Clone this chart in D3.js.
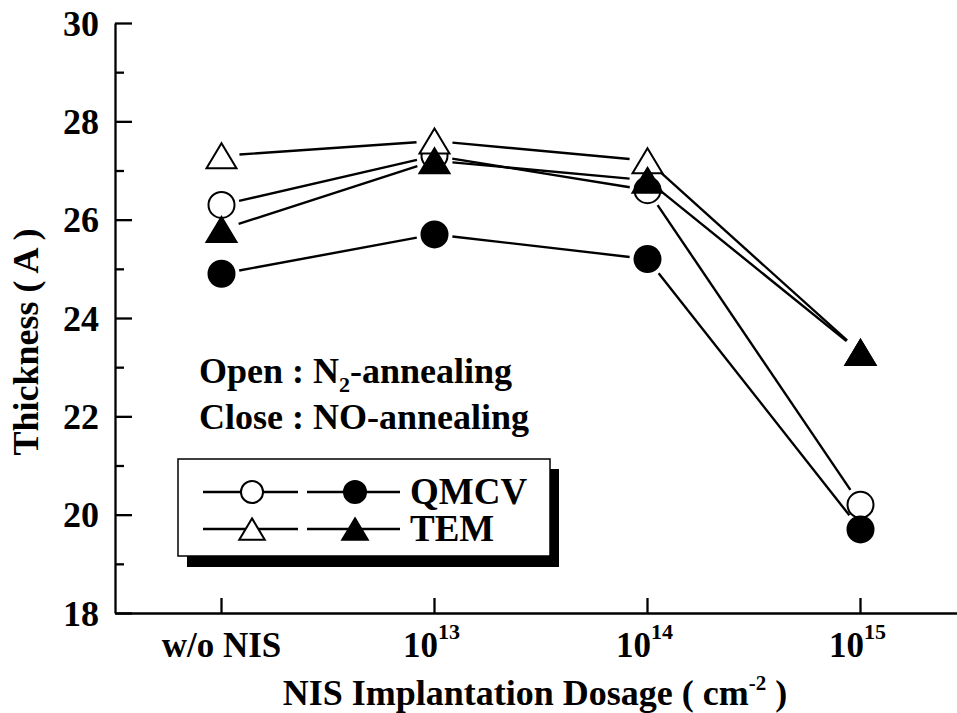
<!DOCTYPE html>
<html><head><meta charset="utf-8">
<script src="https://cdn.jsdelivr.net/npm/d3@7"></script>
<style>
body{margin:0;background:#fff}
svg text{font-family:"Liberation Serif","Times New Roman",serif;font-weight:bold;fill:#000}
</style>
</head><body><svg id="chart" width="957" height="713"></svg>
<script>
// ---- data ----
const categories = ["w/o NIS", "1e13", "1e14", "1e15"];
const xTickBase = ["w/o NIS", "10", "10", "10"];
const xTickSup = ["", "13", "14", "15"];
const qmcvN2 = [26.3, 27.3, 26.6, 20.2];
const qmcvNO = [24.9, 25.7, 25.2, 19.7];
const temN2 = [27.3, 27.6, 27.2, 23.3];
const temNO = [25.8, 27.2, 26.8, 23.3];
const yMajorTicks = [18, 20, 22, 24, 26, 28, 30];
const yMinorTicks = [19, 21, 23, 25, 27, 29];
const legendLabels = ["QMCV", "TEM"];

// ---- setup ----
const svg = d3.select("#chart");
const plotLeft = 115, plotTop = 23, plotBottom = 613, plotRight = 967;
const x = d3.scaleBand().domain(categories).range([plotLeft, plotRight]).paddingInner(0).paddingOuter(0);
const cx = c => x(c) + x.bandwidth() / 2;
const y = d3.scaleLinear().domain([18, 30]).range([plotBottom, plotTop]);

// axes
const yAxisG = svg.append("g").attr("transform", `translate(${plotLeft},0)`)
  .call(d3.axisLeft(y).tickValues(yMajorTicks).tickSize(-17).tickSizeOuter(0).tickPadding(16).tickFormat(d3.format("d")));
svg.append("g").attr("transform", `translate(${plotLeft},0)`)
  .call(d3.axisLeft(y).tickValues(yMinorTicks).tickSize(-9).tickSizeOuter(0).tickFormat(""))
  .call(g => g.select(".domain").remove());
yAxisG.selectAll("text").style("font-size", "36px").attr("dy", "0.34em");

const xAxisG = svg.append("g").attr("transform", `translate(0,${plotBottom})`)
  .call(d3.axisBottom(x).tickSize(-15).tickSizeOuter(0).tickFormat(""));
xAxisG.selectAll(".tick").each(function(d, i) {
  const t = d3.select(this).append("text")
    .attr("y", 44).attr("x", xTickSup[i] ? -3 : 0)
    .attr("text-anchor", "middle").style("font-size", "35px");
  t.append("tspan").text(xTickBase[i]);
  if (xTickSup[i]) t.append("tspan").attr("dy", -18).style("font-size", "22px").text(xTickSup[i]);
});
svg.selectAll(".domain, .tick line").attr("stroke", "#000").attr("stroke-width", 2.3);

// axis titles
svg.append("text").attr("transform", "translate(38,342) rotate(-90)")
  .attr("text-anchor", "middle").style("font-size", "36px").text("Thickness ( A )");
const xt = svg.append("text").attr("x", 535).attr("y", 705).attr("text-anchor", "middle").style("font-size", "36px");
xt.append("tspan").text("NIS Implantation Dosage ( cm");
xt.append("tspan").attr("dy", -15).style("font-size", "21px").text("-2");
xt.append("tspan").attr("dy", 15).text(" )");

// annotation
const a1 = svg.append("text").attr("x", 199).attr("y", 383).style("font-size", "36px");
a1.append("tspan").text("Open : N");
a1.append("tspan").attr("dy", 9).style("font-size", "22px").text("2");
a1.append("tspan").attr("dy", -9).text("-annealing");
svg.append("text").attr("x", 199).attr("y", 429).style("font-size", "36px").text("Close : NO-annealing");

// series
const series = [
  {values: qmcvN2, shape: "circle", fill: "#fff"},
  {values: temN2, shape: "triangle", fill: "#fff"},
  {values: qmcvNO, shape: "circle", fill: "#000"},
  {values: temNO, shape: "triangle", fill: "#000"}
];
const gap = 18;
const lineG = svg.append("g");
series.forEach(s => {
  for (let i = 0; i < categories.length - 1; i++) {
    const x1 = cx(categories[i]), y1 = y(s.values[i]);
    const x2 = cx(categories[i + 1]), y2 = y(s.values[i + 1]);
    const dx = x2 - x1, dy = y2 - y1, L = Math.hypot(dx, dy);
    const ux = dx / L, uy = dy / L;
    lineG.append("line")
      .attr("x1", x1 + ux * gap).attr("y1", y1 + uy * gap)
      .attr("x2", x2 - ux * gap).attr("y2", y2 - uy * gap)
      .attr("stroke", "#000").attr("stroke-width", 2.4);
  }
});
function triPath(w, h) { return `M0,${-h/2}L${w/2},${h/2}L${-w/2},${h/2}Z`; }
function drawMarker(g, shape, fill, px, py, size) {
  if (shape === "circle") {
    g.append("circle").attr("cx", px).attr("cy", py).attr("r", 13 * size)
      .attr("fill", fill).attr("stroke", "#000").attr("stroke-width", 2);
  } else {
    g.append("path").attr("d", triPath(30 * size, 25 * size)).attr("transform", `translate(${px},${py})`)
      .attr("fill", fill).attr("stroke", "#000").attr("stroke-width", 2).attr("stroke-linejoin", "miter");
  }
}
const markG = svg.append("g");
series.forEach(s => {
  s.values.forEach((v, i) => drawMarker(markG, s.shape, s.fill, cx(categories[i]), y(v), 1));
});

// legend
const lg = svg.append("g");
lg.append("rect").attr("x", 187).attr("y", 469).attr("width", 372).attr("height", 98).attr("fill", "#000");
lg.append("rect").attr("x", 178).attr("y", 459).attr("width", 372).attr("height", 97)
  .attr("fill", "#fff").attr("stroke", "#000").attr("stroke-width", 1.5);
const legRows = [
  {label: legendLabels[0], shape: "circle", y: 492},
  {label: legendLabels[1], shape: "triangle", y: 529}
];
legRows.forEach(r => {
  [[203, 298, 252, "#fff"], [307, 400, 355, "#000"]].forEach(([xa, xb, xm, f]) => {
    lg.append("line").attr("x1", xa).attr("x2", xb).attr("y1", r.y).attr("y2", r.y)
      .attr("stroke", "#000").attr("stroke-width", 2.4);
    drawMarker(lg, r.shape, f, xm, r.y, 0.85);
  });
  lg.append("text").attr("x", 410).attr("y", r.y + 12).style("font-size", "37px").text(r.label);
});
</script>
</body></html>
